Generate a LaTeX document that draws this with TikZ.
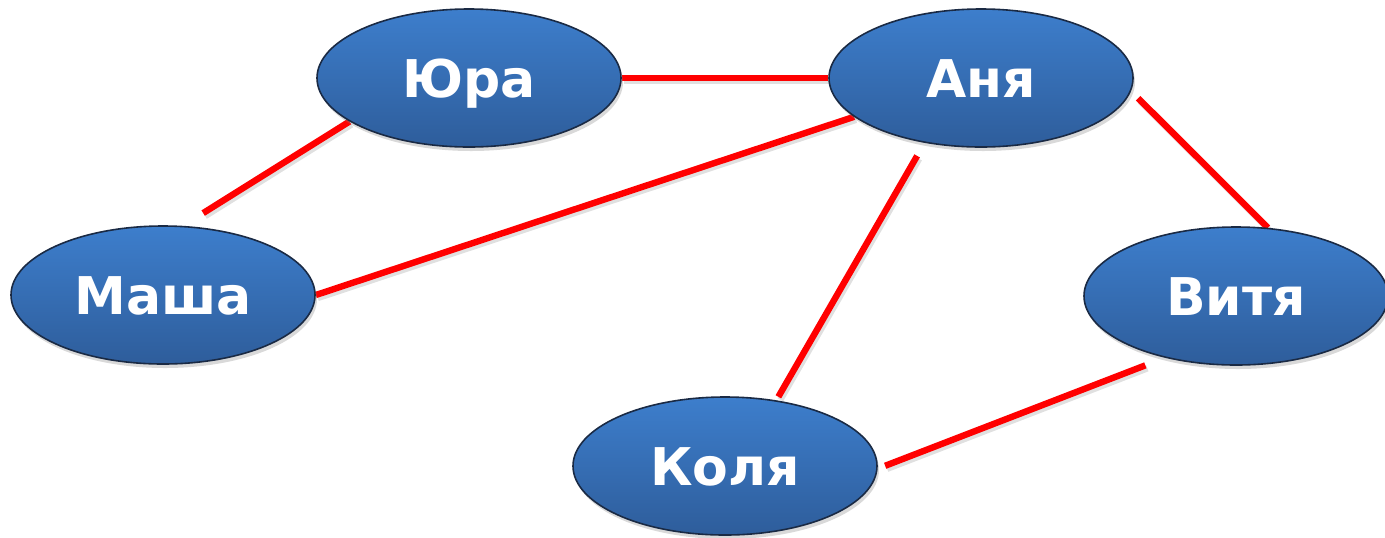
\documentclass[tikz,border=0pt]{standalone}
\usepackage{fontspec}
\setmainfont{DejaVu Sans}
\usetikzlibrary{shapes.geometric,shadows,backgrounds}

\definecolor{nametop}{HTML}{3D7ECC}
\definecolor{namebottom}{HTML}{2E5D9B}
\definecolor{nameborder}{HTML}{1A2A44}

\begin{document}
\begin{tikzpicture}[x=0.5pt,y=-0.5pt,
  person/.style={ellipse,draw=nameborder,line width=0.8pt,top color=nametop,bottom color=namebottom,
    minimum width=152pt,minimum height=69pt,inner sep=0pt,text=white,
    text height=19pt,text depth=0pt,
    font=\fontsize{26}{30}\selectfont\bfseries,
    drop shadow={shadow xshift=1pt,shadow yshift=-2pt,opacity=0.3}},
  link/.style={red,line width=3.2pt,preaction={draw=black,opacity=0.12,line width=3.2pt,transform canvas={xshift=1pt,yshift=-1.5pt}}}]

\useasboundingbox (0,0) rectangle (1385,537);

\node [person] (jura) at (469,78) {Юра};
\node [person] (anja) at (981,78) {Аня};
\node [person] (masha) at (163,295) {Маша};
\node [person] (vitja) at (1236,296) {Витя};
\node [person] (kolja) at (725,466) {Коля};

\begin{scope}[on background layer]
\draw [link] (jura.east) -- (anja.west);
\draw [link,shorten <=12pt] (masha.74) -- (jura.200);
\draw [link] (masha.east) -- (anja.197);
\draw [link,shorten <=7.5pt,shorten >=2pt] (anja.229) -- (kolja.52);
\draw [link,shorten <=5pt] (anja.-5) -- (vitja.65);
\draw [link,shorten <=4pt,shorten >=10.5pt] (kolja.-1) -- (vitja.221);
\end{scope}

\end{tikzpicture}
\end{document}
